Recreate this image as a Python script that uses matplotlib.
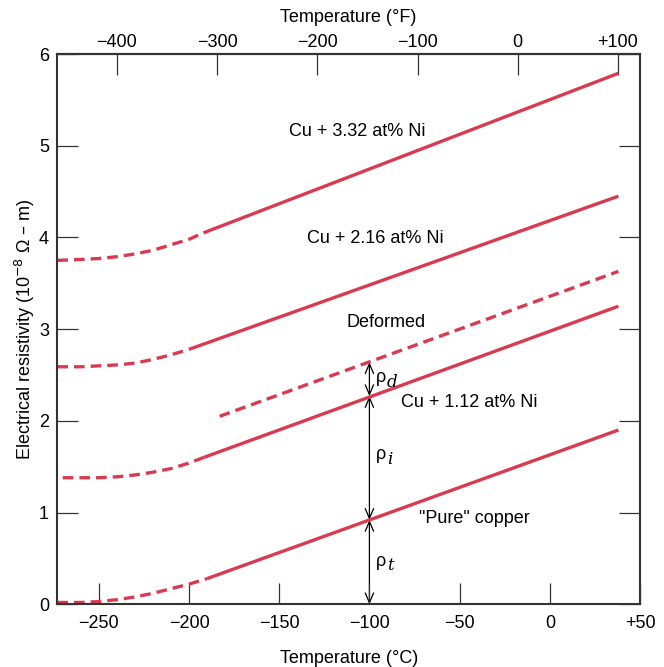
import numpy as np
import matplotlib.pyplot as plt
from matplotlib.patches import FancyArrowPatch

plt.rcParams['font.family'] = ['Liberation Sans', 'DejaVu Sans']

red = '#d93a50'

# low temperature (dashed) parts, degC / 1e-8 ohm m
pure_T = [-273, -260, -250, -240, -230, -220, -210, -200, -190]
pure_r = [0.02, 0.02, 0.03, 0.05, 0.08, 0.12, 0.17, 0.22, 0.28]
ni112_T = [-270, -260, -250, -240, -230, -220, -210, -200, -192]
ni112_r = [1.38, 1.38, 1.38, 1.39, 1.41, 1.44, 1.48, 1.54, 1.60]
ni216_T = [-273, -260, -250, -240, -230, -220, -210, -200]
ni216_r = [2.59, 2.59, 2.60, 2.61, 2.63, 2.67, 2.72, 2.78]
ni332_T = [-273, -260, -250, -240, -230, -220, -210, -200, -192]
ni332_r = [3.75, 3.76, 3.77, 3.79, 3.82, 3.86, 3.92, 3.98, 4.05]

# linear (solid) parts
pure_lin = ([-190, 38], [0.28, 1.90])
ni112_lin = ([-192, 38], [1.60, 3.25])
ni216_lin = ([-200, 38], [2.78, 4.45])
ni332_lin = ([-192, 38], [4.05, 5.79])
deformed = ([-183, 38], [2.05, 3.63])

# contributions at -100 C
T_arrow = -100
levels = [0, 0.92, 2.27, 2.64]

fig = plt.figure(figsize=(6.64, 6.67), dpi=100)
ax = fig.add_axes([0.0863, 0.094, 0.8776, 0.825])

dash = (3.2, 1.8)
lw = 2.4
for T, r in [(pure_T, pure_r), (ni112_T, ni112_r), (ni216_T, ni216_r), (ni332_T, ni332_r)]:
    ax.plot(T, r, color=red, lw=lw, dashes=dash)
for T, r in [pure_lin, ni112_lin, ni216_lin, ni332_lin]:
    ax.plot(T, r, color=red, lw=lw, solid_capstyle='butt')
ax.plot(deformed[0], deformed[1], color=red, lw=lw, dashes=dash)

# double arrows
for a, b in zip(levels[:-1], levels[1:]):
    ar = FancyArrowPatch((T_arrow, a), (T_arrow, b),
                         arrowstyle='<->,head_length=7,head_width=3',
                         color='black', lw=0.9, shrinkA=0, shrinkB=0)
    ax.add_patch(ar)

def rho(x, y, sub):
    ax.text(x, y, 'ρ', fontsize=13, ha='left', va='center')
    ax.text(x + 6.2, y - 0.05, sub, fontsize=12, style='italic',
            family='DejaVu Serif', ha='left', va='center')

rho(-96.5, 0.47, 't')
rho(-96.5, 1.63, 'i')
rho(-96.5, 2.47, 'd')

fs = 13
ax.text(-107, 5.15, 'Cu + 3.32 at% Ni', fontsize=fs, ha='center', va='center')
ax.text(-97, 3.99, 'Cu + 2.16 at% Ni', fontsize=fs, ha='center', va='center')
ax.text(-90.5, 3.07, 'Deformed', fontsize=fs, ha='center', va='center')
ax.text(-44.5, 2.20, 'Cu + 1.12 at% Ni', fontsize=fs, ha='center', va='center')
ax.text(-42, 0.94, '"Pure" copper', fontsize=fs, ha='center', va='center')

ax.set_xlim(-273, 50)
ax.set_ylim(0, 6)
xt = [-250, -200, -150, -100, -50, 0, 50]
ax.set_xticks(xt)
ax.set_xticklabels(['\u2212250', '\u2212200', '\u2212150', '\u2212100', '\u221250', '0', '+50'])
ax.set_yticks(range(7))
ax.tick_params(direction='in', length=15, width=0.9, labelsize=fs, pad=8,
               right=True, color='#333333')
ax.tick_params(axis='y', pad=6)
ax.set_xlabel('Temperature (°C)', fontsize=fs, labelpad=13)
ax.set_ylabel('Electrical resistivity (10$^{-8}$ Ω – m)', fontsize=fs, labelpad=1)
for s in ax.spines.values():
    s.set_linewidth(1.5)
    s.set_color('#333333')

top = ax.secondary_xaxis('top', functions=(lambda c: c * 9 / 5 + 32, lambda f: (f - 32) * 5 / 9))
ft = [-400, -300, -200, -100, 0, 100]
top.set_xticks(ft)
top.set_xticklabels(['\u2212400', '\u2212300', '\u2212200', '\u2212100', '0', '+100'])
top.tick_params(direction='in', length=15, width=0.9, labelsize=fs, pad=2, color='#333333')
top.spines['top'].set_linewidth(1.5)
top.set_xlabel('Temperature (°F)', fontsize=fs, labelpad=9)

fig.savefig('out.png', dpi=100)
